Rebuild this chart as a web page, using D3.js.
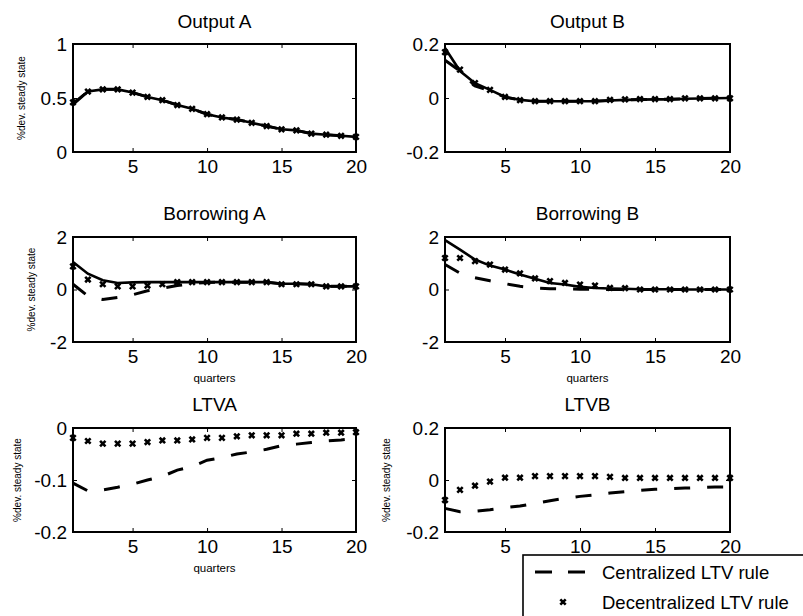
<!DOCTYPE html>
<html><head><meta charset="utf-8">
<script src="https://cdn.jsdelivr.net/npm/d3@7"></script>
<style>body{margin:0;background:#fff}svg{display:block}text{font-family:"Liberation Sans",Arial,sans-serif;fill:#000}</style>
</head><body>
<svg id="c" width="803" height="616"></svg>
<script>
const quarters = d3.range(1, 21);
const xTicks = [5, 10, 15, 20];

// Output A
const outA_base = [0.45,0.56,0.58,0.58,0.55,0.51,0.48,0.435,0.40,0.35,0.32,0.30,0.27,0.24,0.21,0.20,0.17,0.16,0.15,0.14];
const outA_cent = [0.44,0.56,0.58,0.58,0.55,0.51,0.48,0.435,0.40,0.35,0.32,0.30,0.27,0.24,0.21,0.20,0.17,0.16,0.15,0.14];
const outA_dec  = [0.46,0.56,0.58,0.58,0.55,0.51,0.48,0.435,0.40,0.35,0.32,0.30,0.27,0.24,0.21,0.20,0.17,0.16,0.15,0.14];
// Output B
const outB_base = [0.185,0.10,0.055,0.03,0.004,-0.007,-0.012,-0.012,-0.012,-0.012,-0.012,-0.009,-0.007,-0.006,-0.005,-0.005,-0.003,-0.002,-0.001,0];
const outB_cent = [0.14,0.10,0.045,0.027,0.003,-0.007,-0.012,-0.012,-0.012,-0.012,-0.012,-0.009,-0.007,-0.006,-0.005,-0.005,-0.003,-0.002,-0.001,0];
const outB_dec  = [0.17,0.105,0.055,0.03,0.004,-0.008,-0.012,-0.012,-0.012,-0.012,-0.012,-0.007,-0.005,-0.004,-0.004,-0.004,-0.001,-0.001,-0.001,-0.001];
// Borrowing A
const borA_base = [1.05,0.6,0.35,0.25,0.27,0.28,0.28,0.28,0.28,0.28,0.28,0.28,0.28,0.28,0.22,0.22,0.2,0.12,0.12,0.12];
const borA_cent = [0.2,-0.25,-0.38,-0.3,-0.2,-0.05,0.05,0.15,0.22,0.27,0.28,0.28,0.28,0.28,0.22,0.22,0.2,0.12,0.12,0.12];
const borA_dec  = [0.88,0.38,0.2,0.12,0.12,0.15,0.2,0.28,0.28,0.28,0.28,0.28,0.28,0.28,0.2,0.2,0.2,0.12,0.12,0.12];
// Borrowing B
const borB_base = [1.88,1.52,1.14,0.91,0.76,0.57,0.41,0.25,0.19,0.1,0.06,0.04,0.03,0.01,0.01,0.01,0,0,0,0];
const borB_cent = [0.95,0.62,0.45,0.33,0.22,0.12,0.06,0.03,0.02,0.01,0.01,0,0,0,0,0,0,0,0,0];
const borB_dec  = [1.2,1.2,1.08,0.95,0.76,0.61,0.42,0.32,0.25,0.19,0.15,0.06,0.05,0,0,0,0,0,0,0];
// LTV A
const ltvA_cent = [-0.106,-0.121,-0.119,-0.114,-0.108,-0.1,-0.093,-0.081,-0.074,-0.062,-0.057,-0.05,-0.046,-0.041,-0.034,-0.031,-0.028,-0.025,-0.023,-0.02];
const ltvA_dec  = [-0.019,-0.025,-0.03,-0.03,-0.03,-0.027,-0.024,-0.024,-0.022,-0.019,-0.019,-0.016,-0.014,-0.014,-0.014,-0.011,-0.011,-0.009,-0.009,-0.008];
// LTV B
const ltvB_cent = [-0.109,-0.122,-0.12,-0.114,-0.106,-0.1,-0.09,-0.08,-0.07,-0.063,-0.057,-0.05,-0.045,-0.04,-0.036,-0.034,-0.031,-0.029,-0.027,-0.027];
const ltvB_dec  = [-0.077,-0.038,-0.022,-0.006,0.009,0.009,0.015,0.015,0.015,0.015,0.015,0.012,0.008,0.008,0.008,0.008,0.008,0.008,0.008,0.008];

const titles = ["Output A","Output B","Borrowing A","Borrowing B","LTVA","LTVB"];
const yTickSets = [[0,0.5,1],[-0.2,0,0.2],[-2,0,2],[-2,0,2],[-0.2,-0.1,0],[-0.2,0,0.2]];
const yDomains = [[0,1],[-0.2,0.2],[-2,2],[-2,2],[-0.2,0],[-0.2,0.2]];
const baseSeries = [outA_base,outB_base,borA_base,borB_base,null,null];
const centSeries = [outA_cent,outB_cent,borA_cent,borB_cent,ltvA_cent,ltvB_cent];
const decSeries  = [outA_dec,outB_dec,borA_dec,borB_dec,ltvA_dec,ltvB_dec];
const yLabel = "%dev. steady state";
const legendLabels = ["Centralized LTV rule","Decentralized LTV rule"];

const cols = [[73,356],[445,730]];
const rows = [[44,152],[237,342],[428,532]];
const titleY = [28,220,411];
const yLabelX = [25,null,35,null,21,390];
const showQuarters = [false,false,true,true,true,false];

const svg = d3.select("#c");
const crossPath = "M-2.7,-2.7L2.7,2.7M-2.7,2.7L2.7,-2.7";

titles.forEach((t, i) => {
  const c = cols[i % 2], r = rows[Math.floor(i / 2)];
  const x = d3.scaleLinear().domain([1, 20]).range(c);
  const y = d3.scaleLinear().domain(yDomains[i]).range([r[1], r[0]]);
  const g = svg.append("g");
  const fmt = d => String(d);

  const ab = g.append("g").attr("transform", `translate(0,${r[1]})`)
    .call(d3.axisBottom(x).tickValues(xTicks).tickSize(-4).tickPadding(7.5).tickFormat(fmt));
  const at = g.append("g").attr("transform", `translate(0,${r[0]})`)
    .call(d3.axisTop(x).tickValues(xTicks).tickSize(-4).tickFormat(""));
  const al = g.append("g").attr("transform", `translate(${c[0]},0)`)
    .call(d3.axisLeft(y).tickValues(yTickSets[i]).tickSize(-4).tickPadding(6).tickFormat(fmt));
  const ar = g.append("g").attr("transform", `translate(${c[1]},0)`)
    .call(d3.axisRight(y).tickValues(yTickSets[i]).tickSize(-4).tickFormat(""));
  [ab, at, al, ar].forEach(a => {
    a.select(".domain").remove();
    a.selectAll("line").attr("stroke", "#000").attr("stroke-width", 1);
    a.selectAll("text").attr("font-size", 19).attr("fill", "#000")
      .style("font-family", '"Liberation Sans", Arial, sans-serif');
  });

  const line = d3.line().x((d, k) => x(quarters[k])).y(d => y(d));

  if (baseSeries[i]) {
    g.append("path").datum(baseSeries[i]).attr("d", line)
      .attr("fill", "none").attr("stroke", "#000").attr("stroke-width", 2.6);
  }
  g.append("path").datum(centSeries[i]).attr("d", line)
    .attr("fill", "none").attr("stroke", "#000").attr("stroke-width", 3)
    .attr("stroke-dasharray", "16,17");
  g.selectAll(".mk").data(decSeries[i]).enter().append("path")
    .attr("transform", (d, k) => `translate(${x(quarters[k])},${y(d)})`)
    .attr("d", crossPath).attr("stroke", "#000").attr("stroke-width", 2.6).attr("fill", "none");

  g.append("rect").attr("x", c[0]).attr("y", r[0]).attr("width", c[1] - c[0]).attr("height", r[1] - r[0])
    .attr("fill", "none").attr("stroke", "#000").attr("stroke-width", 2);

  g.append("text").attr("x", (c[0] + c[1]) / 2).attr("y", titleY[Math.floor(i / 2)])
    .attr("text-anchor", "middle").attr("font-size", 19).text(t);

  if (yLabelX[i] !== null) {
    g.append("text").attr("transform", `translate(${yLabelX[i]},${(r[0] + r[1]) / 2}) rotate(-90)`)
      .attr("text-anchor", "middle").attr("font-size", 10).text(yLabel);
  }
  if (showQuarters[i]) {
    g.append("text").attr("x", (c[0] + c[1]) / 2).attr("y", r[1] + 40)
      .attr("text-anchor", "middle").attr("font-size", 11.5).text("quarters");
  }
});

// legend
const lg = svg.append("g");
lg.append("rect").attr("x", 523).attr("y", 555).attr("width", 300).attr("height", 100)
  .attr("fill", "#fff").attr("stroke", "#000").attr("stroke-width", 1.6);
lg.append("line").attr("x1", 535).attr("x2", 585).attr("y1", 572).attr("y2", 572)
  .attr("stroke", "#000").attr("stroke-width", 3).attr("stroke-dasharray", "17,16");
lg.append("path").attr("transform", "translate(563,602)").attr("d", crossPath)
  .attr("stroke", "#000").attr("stroke-width", 2.6).attr("fill", "none");
lg.selectAll(".lt").data(legendLabels).enter().append("text")
  .attr("x", 602).attr("y", (d, k) => 572 + k * 30 + 6.5).attr("font-size", 18.5).text(d => d);
</script>
</body></html>
